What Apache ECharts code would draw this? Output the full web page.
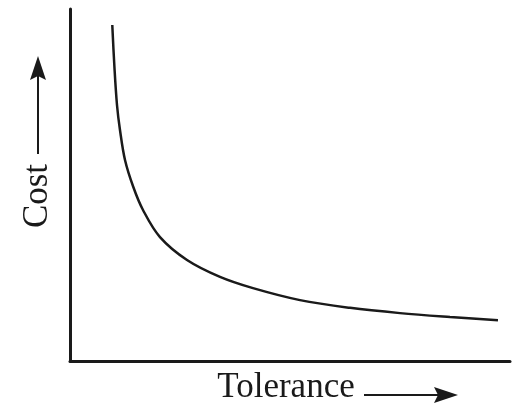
<!DOCTYPE html>
<html>
<head>
<meta charset="utf-8">
<script src="https://cdn.jsdelivr.net/npm/echarts@6/dist/echarts.min.js"></script>
<style>
  html, body { margin: 0; padding: 0; background: #fff; }
  #chart { width: 515px; height: 411px; }
</style>
</head>
<body>
<div id="chart"></div>
<script>
// curve (relative units, 0-100 on both axes)
var tolerance = [9.61, 10.07, 10.68, 11.36, 12.5, 14.39, 16.59, 20.45, 26.59, 34.09, 41.59, 52.27, 63.64, 75.0, 86.36, 97.27]
var cost = [95.45, 84.09, 72.73, 65.63, 57.1, 49.43, 42.9, 35.2, 28.7, 23.9, 20.7, 17.3, 15.1, 13.6, 12.5, 11.6]
var xTitle = 'Tolerance'
var yTitle = 'Cost'

var points = []
for (var i = 0; i < tolerance.length; i++) {
  points.push([tolerance[i], cost[i]])
}

var ink = '#1a1a1a'
var font = { fontFamily: 'Liberation Serif', fontSize: 35, fill: ink }
var myChart = echarts.init(document.getElementById('chart'))
var option = {
  backgroundColor: '#fff',
  animation: false,
  grid: { left: 70, right: 5, top: 9, bottom: 50, outerBoundsMode: 'none' },
  xAxis: {
    type: 'value',
    min: 0,
    max: 100,
    axisLine: { show: true, lineStyle: { color: ink, width: 3 } },
    axisTick: { show: false },
    axisLabel: { show: false },
    splitLine: { show: false }
  },
  yAxis: {
    type: 'value',
    min: 0,
    max: 100,
    axisLine: { show: true, lineStyle: { color: ink, width: 3 } },
    axisTick: { show: false },
    axisLabel: { show: false },
    splitLine: { show: false }
  },
  graphic: [
    { type: 'text', x: 286, y: 388, style: Object.assign({ text: xTitle, align: 'center', verticalAlign: 'middle' }, font) },
    { type: 'line', shape: { x1: 364, y1: 395, x2: 440, y2: 395 }, style: { stroke: ink, lineWidth: 2 } },
    { type: 'polygon', shape: { points: [[458, 395], [434, 387], [438, 395], [434, 403]] }, style: { fill: ink } },
    { type: 'text', x: 38, y: 196, rotation: Math.PI / 2, style: Object.assign({ text: yTitle, align: 'center', verticalAlign: 'middle' }, font) },
    { type: 'line', shape: { x1: 38, y1: 154, x2: 38, y2: 75 }, style: { stroke: ink, lineWidth: 2 } },
    { type: 'polygon', shape: { points: [[38, 56], [30, 80], [38, 76], [46, 80]] }, style: { fill: ink } }
  ],
  series: [
    {
      type: 'line',
      data: points,
      smooth: 0.35,
      showSymbol: false,
      lineStyle: { color: ink, width: 2.5 }
    }
  ]
}
myChart.setOption(option)
window.onresize = myChart.resize
</script>
</body>
</html>
